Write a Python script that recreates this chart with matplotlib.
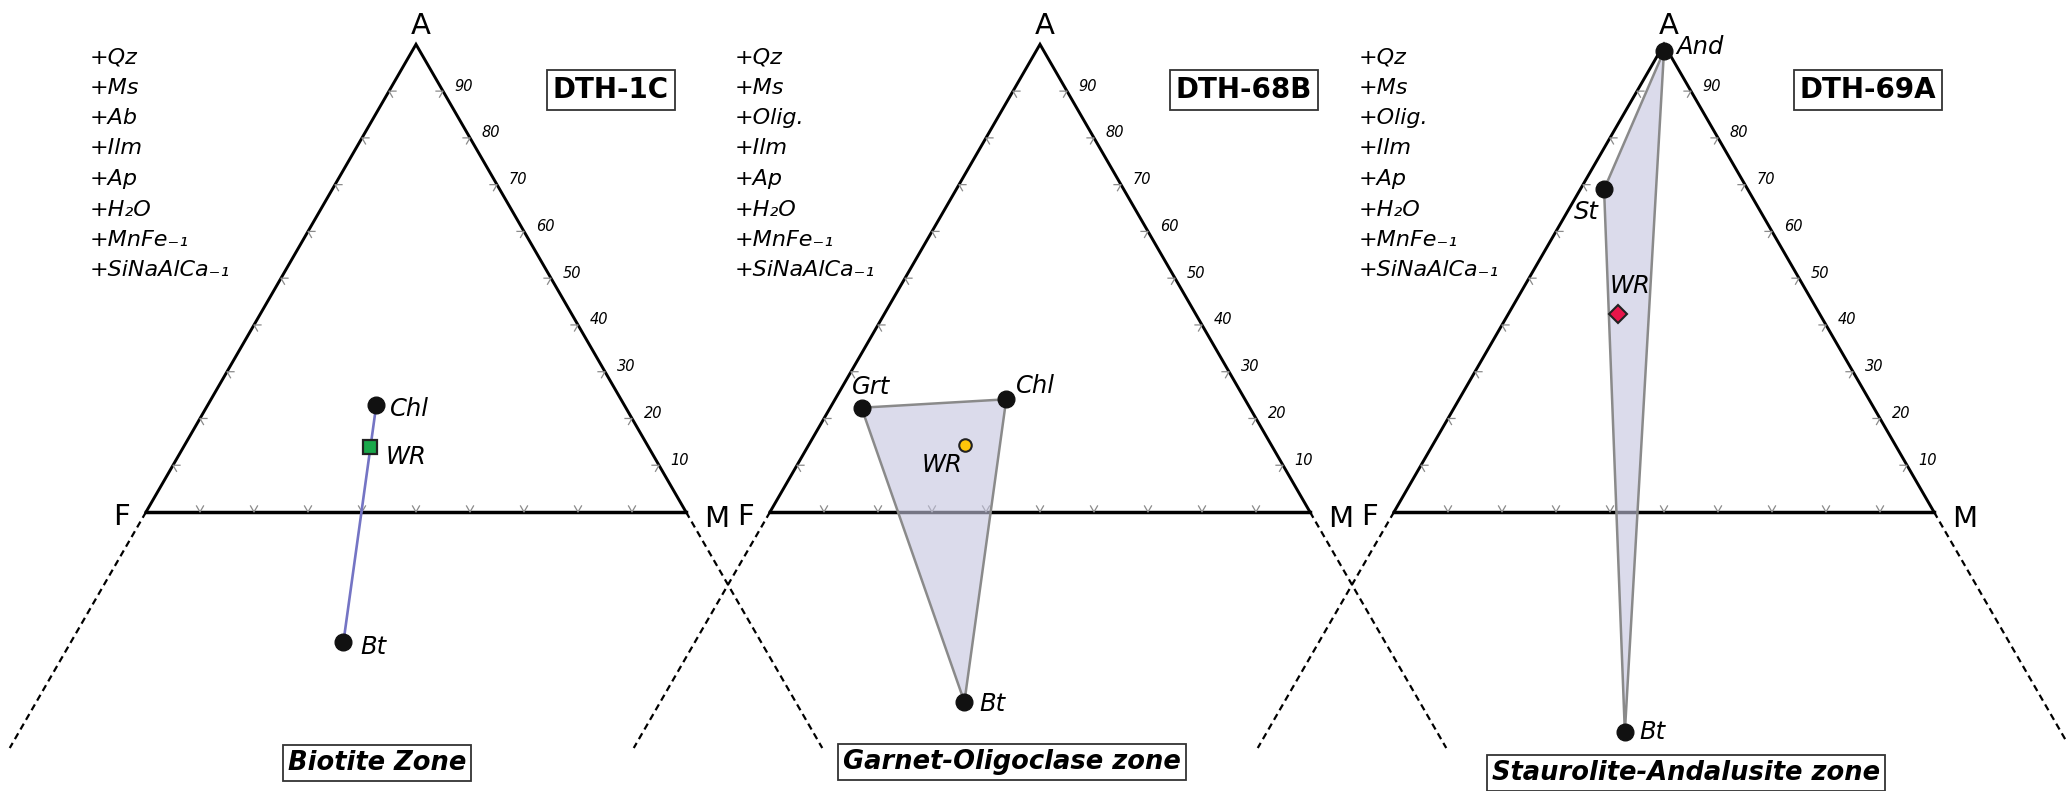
import numpy as np
import matplotlib.pyplot as plt
from matplotlib.patches import Polygon

plt.rcParams['font.family'] = ['DejaVu Sans']

# AFM projection, all compositions in percent: A + F + M = 100
# (negative A plots below the F-M join, e.g. biotite)
samples = ["DTH-1C", "DTH-68B", "DTH-69A"]
zones = ["Biotite Zone", "Garnet-Oligoclase zone", "Staurolite-Andalusite zone"]
extra_phases = [
    ["+Qz", "+Ms", "+Ab", "+Ilm", "+Ap", "+H\u2082O", "+MnFe\u208b\u2081", "+SiNaAlCa\u208b\u2081"],
    ["+Qz", "+Ms", "+Olig.", "+Ilm", "+Ap", "+H\u2082O", "+MnFe\u208b\u2081", "+SiNaAlCa\u208b\u2081"],
    ["+Qz", "+Ms", "+Olig.", "+Ilm", "+Ap", "+H\u2082O", "+MnFe\u208b\u2081", "+SiNaAlCa\u208b\u2081"],
]
tick_vals = [10, 20, 30, 40, 50, 60, 70, 80, 90]

# DTH-1C: Chl - Bt tie line with whole rock
p1_names = ["Chl", "WR", "Bt"]
p1_A = [22.9, 14.0, -27.9]
p1_M = [31.2, 34.4, 50.5]

# DTH-68B: Grt - Chl - Bt triangle
p2_names = ["Grt", "Chl", "WR", "Bt"]
p2_A = [22.3, 24.1, 14.3, -40.6]
p2_M = [5.8, 31.7, 29.0, 56.3]

# DTH-69A: And - St - Bt triangle
p3_names = ["And", "St", "WR", "Bt"]
p3_A = [98.6, 69.0, 42.3, -47.1]
p3_M = [0.7, 4.4, 20.3, 66.3]

# ---- page layout (pixel units) ----
SIDE = 540.0
BASE = 512.0
H = SIDE * np.sqrt(3) / 2
panel_x = [146, 770, 1394]          # position of the F corner of each triangle
EXT = (748 - BASE) / H * 100        # how far the dashed side extensions run

def tern(fx, A, M):
    A = np.asarray(A, float)
    M = np.asarray(M, float)
    x = fx + SIDE * (M + A / 2) / 100
    y = BASE - H * A / 100
    return x, y

fig = plt.figure(figsize=(20.66, 7.91), dpi=100)
ax = fig.add_axes([0, 0, 1, 1])
ax.set_xlim(0, 2066)
ax.set_ylim(791, 0)
ax.axis('off')

phase_x = [90, 735, 1359]
sample_x = [611, 1244, 1868]
zone_xy = [(377, 763), (1012, 762), (1686, 773)]
fill_col = (0.77, 0.77, 0.87)
edge_col = '#8a8a8a'
lab_fs = 17.5

for k in range(3):
    fx = panel_x[k]
    # triangle sides
    xs, ys = tern(fx, [0, 100, 0], [0, 0, 100])
    ax.plot([xs[0], xs[1], xs[2]], [ys[0], ys[1], ys[2]], color='black', lw=2.1,
            solid_joinstyle='miter', zorder=2)
    ax.plot([xs[0], xs[2]], [ys[0], ys[2]], color='black', lw=2.5, zorder=2)
    # dashed extensions of A-F and A-M below the F-M join
    ex, ey = tern(fx, [0, -EXT], [0, 0])
    ax.plot(ex, ey, color='black', lw=1.6, ls=(0, (3, 2.0)), zorder=2)
    ex, ey = tern(fx, [0, -EXT], [100, 100 + EXT])
    ax.plot(ex, ey, color='black', lw=1.6, ls=(0, (3, 2.0)), zorder=2)

    # small chevron ticks every 10 %
    L = 7
    for t in tick_vals:
        bx, by = tern(fx, 0, t)
        ax.plot([bx - 0.5 * L, bx, bx + 0.5 * L], [by - 0.866 * L, by, by - 0.866 * L],
                color='#8a8a8a', lw=0.9, zorder=2)
        lx, ly = tern(fx, t, 0)
        ax.plot([lx + L, lx, lx + 0.5 * L], [ly, ly, ly + 0.866 * L],
                color='#8a8a8a', lw=0.9, zorder=2)
        rx, ry = tern(fx, t, 100 - t)
        ax.plot([rx - L, rx, rx - 0.5 * L], [ry, ry, ry + 0.866 * L],
                color='#8a8a8a', lw=0.9, zorder=2)
        ax.text(rx + 21, ry - 5, str(t), fontsize=10.5, style='italic',
                ha='center', va='center', zorder=6)

    # apex labels
    ax.text(xs[1] + 5, 26, "A", fontsize=21, ha='center', va='center')
    ax.text(xs[0] - 25, 517, "F", fontsize=21, ha='center', va='center')
    ax.text(xs[2] + 31, 519, "M", fontsize=21, ha='center', va='center')

    # excess phases
    for i, s in enumerate(extra_phases[k]):
        ax.text(phase_x[k], 63 + 30.5 * i, s, fontsize=16, style='italic',
                ha='left', va='baseline')

    ax.text(sample_x[k], 90, samples[k], fontsize=20, fontweight='bold',
            ha='center', va='center',
            bbox=dict(boxstyle='square,pad=0.2', fc='white', ec='#333333', lw=1.3))
    ax.text(zone_xy[k][0], zone_xy[k][1], zones[k], fontsize=18.5, fontweight='bold',
            style='italic', ha='center', va='center',
            bbox=dict(boxstyle='square,pad=0.2', fc='white', ec='#333333', lw=1.3))

# ---- DTH-1C ----
fx = panel_x[0]
x1, y1 = tern(fx, p1_A, p1_M)
ax.plot([x1[0], x1[2]], [y1[0], y1[2]], color='#7474c4', lw=1.9, zorder=3)
ax.plot(x1[[0, 2]], y1[[0, 2]], 'o', color='#111111', ms=12, zorder=5)
ax.plot(x1[1], y1[1], 's', mfc='#1aa84b', mec='#222222', mew=1.6, ms=10.5, zorder=5)
off1 = [(14, 4, 'left'), (16, 10, 'left'), (17, 5, 'left')]
for n, x, y, o in zip(p1_names, x1, y1, off1):
    ax.text(x + o[0], y + o[1], n, fontsize=lab_fs, style='italic', ha=o[2], va='center', zorder=6)

# ---- DTH-68B ----
fx = panel_x[1]
x2, y2 = tern(fx, p2_A, p2_M)
tri = [(x2[0], y2[0]), (x2[1], y2[1]), (x2[3], y2[3])]
ax.add_patch(Polygon(tri, closed=True, fc=fill_col, ec='none', alpha=0.6, zorder=3))
ax.add_patch(Polygon(tri, closed=True, fc='none', ec=edge_col, lw=1.8, zorder=3))
ax.plot(x2[[0, 1, 3]], y2[[0, 1, 3]], 'o', color='#111111', ms=12, zorder=5)
ax.plot(x2[2], y2[2], 'o', mfc='#ffc60a', mec='#222222', mew=1.5, ms=9, zorder=5)
off2 = [(-10, -21, 'left'), (10, -13, 'left'), (-23, 20, 'center'), (15, 2, 'left')]
for n, x, y, o in zip(p2_names, x2, y2, off2):
    ax.text(x + o[0], y + o[1], n, fontsize=lab_fs, style='italic', ha=o[2], va='center', zorder=6)

# ---- DTH-69A ----
fx = panel_x[2]
x3, y3 = tern(fx, p3_A, p3_M)
tri = [(x3[0], y3[0]), (x3[1], y3[1]), (x3[3], y3[3])]
ax.add_patch(Polygon(tri, closed=True, fc=fill_col, ec='none', alpha=0.6, zorder=3))
ax.add_patch(Polygon(tri, closed=True, fc='none', ec=edge_col, lw=1.8, zorder=3))
ax.plot(x3[[0, 1, 3]], y3[[0, 1, 3]], 'o', color='#111111', ms=12, zorder=5)
ax.plot(x3[2], y3[2], 'D', mfc='#e8154a', mec='#222222', mew=1.5, ms=9.5, zorder=5)
off3 = [(12, -4, 'left'), (-18, 23, 'center'), (12, -28, 'center'), (14, 0, 'left')]
for n, x, y, o in zip(p3_names, x3, y3, off3):
    ax.text(x + o[0], y + o[1], n, fontsize=lab_fs, style='italic', ha=o[2], va='center', zorder=6)

fig.savefig('out.png', dpi=100)
